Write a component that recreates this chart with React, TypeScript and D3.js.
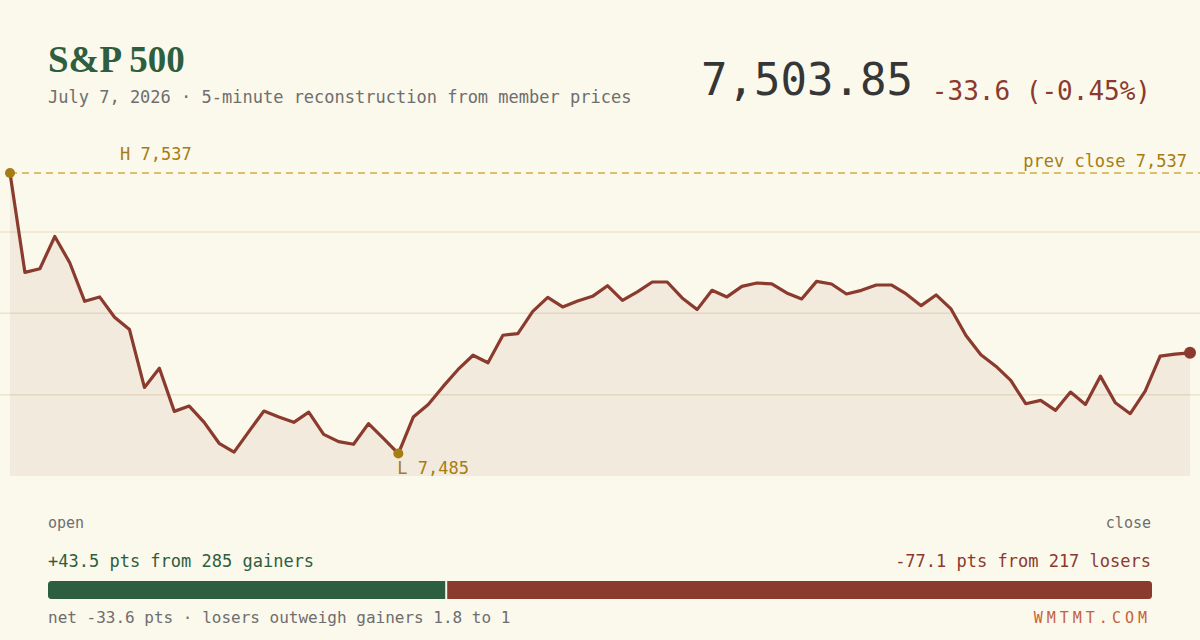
import React from "react";
import * as d3 from "d3";

// 5-minute reconstruction, 9:30 open to close
const prices: number[] = [
  7537.45, 7518.87, 7519.56, 7525.58, 7520.68, 7513.47, 7514.29, 7510.48, 7508.19, 7497.38,
  7500.98, 7492.91, 7493.9, 7490.86, 7486.95, 7485.3, 7489.18, 7492.97, 7491.85, 7490.86,
  7492.78, 7488.62, 7487.26, 7486.76, 7490.62, 7487.88, 7485.03, 7491.85, 7494.21, 7497.57,
  7500.74, 7503.4, 7501.99, 7507.13, 7507.45, 7511.6, 7514.21, 7512.42, 7513.54, 7514.4,
  7516.39, 7513.65, 7515.22, 7517.08, 7517.08, 7514.1, 7511.92, 7515.52, 7514.29, 7516.26,
  7516.89, 7516.71, 7515.03, 7513.91, 7517.19, 7516.71, 7514.84, 7515.52, 7516.52, 7516.52,
  7514.84, 7512.66, 7514.66, 7512.05, 7507.07, 7503.48, 7501.35, 7498.69, 7494.34, 7494.96,
  7493.1, 7496.51, 7494.21, 7499.49, 7494.53, 7492.48, 7496.69, 7503.22, 7503.6, 7503.85,
];

const prevClose = 7537.45;
const lastPrice = 7503.85;
const change = -33.6;
const changePct = -0.45;

const gainPts = 43.5;
const gainers = 285;
const lossPts = -77.1;
const losers = 217;

const C = {
  bg: "#fbf8ec",
  green: "#2e5e40",
  red: "#8b3a2e",
  gold: "#a67d12",
  dash: "#d4aa45",
  grid: "#ece3cb",
  gray: "#6e6e6e",
  ink: "#363636",
  brand: "#c4633b",
};

const MONO = "'DejaVu Sans Mono', 'Liberation Mono', monospace";
const SERIF = "'Liberation Serif', 'DejaVu Serif', serif";

export default function App() {
  const width = 1200;
  const height = 640;
  const plot = { left: 10, right: 1190, top: 150.5, bottom: 476 };

  const lo = d3.min(prices)!;
  const hi = d3.max(prices)!;
  const pad = (hi - lo) * 0.08;

  const x = d3
    .scaleLinear()
    .domain([0, prices.length - 1])
    .range([plot.left, plot.right]);
  const y = d3
    .scaleLinear()
    .domain([lo - pad, hi + pad])
    .range([plot.bottom, plot.top]);

  const [d0, d1] = y.domain();
  const gridVals = [0.25, 0.5, 0.75].map(t => d0 + (d1 - d0) * t);

  const line = d3
    .line<number>()
    .x((_, i) => x(i))
    .y(d => y(d));
  const area = d3
    .area<number>()
    .x((_, i) => x(i))
    .y0(plot.bottom)
    .y1(d => y(d));

  const hiIdx = d3.maxIndex(prices);
  const loIdx = d3.minIndex(prices);
  const lastIdx = prices.length - 1;

  const fmt0 = d3.format(",.0f");
  const bar = d3
    .scaleLinear()
    .domain([0, gainPts + Math.abs(lossPts)])
    .range([48, 1152]);
  const split = bar(gainPts);

  return (
    <div style={{ position: "absolute", left: 0, top: 0 }}>
      <svg width={width} height={height} style={{ display: "block" }}>
        <defs>
          <clipPath id="barclip">
            <rect x={bar(0)} y={581} width={bar.range()[1] - bar(0)} height={18} rx={3.5} />
          </clipPath>
        </defs>
        <rect width={width} height={height} fill={C.bg} />

        {/* header */}
        <text x={48} y={72} fontFamily={SERIF} fontWeight={700} fontSize={37} fill={C.green}>
          S&amp;P 500
        </text>
        <text x={48} y={102.5} fontFamily={MONO} fontSize={17} fill={C.gray}>
          July 7, 2026 · 5-minute reconstruction from member prices
        </text>
        <text x={913} y={95} textAnchor="end" fontFamily={MONO} fontSize={44} fill={C.ink}>
          {d3.format(",.2f")(lastPrice)}
        </text>
        <text x={1151} y={100} textAnchor="end" fontFamily={MONO} fontSize={26} fill={C.red}>
          {`${change.toFixed(1)} (${changePct.toFixed(2)}%)`}
        </text>

        {/* plot */}
        {gridVals.map(v => (
          <line key={v} x1={0} x2={width} y1={y(v)} y2={y(v)} stroke={C.grid} strokeWidth={1.5} />
        ))}
        <path d={area(prices) ?? undefined} fill={C.red} fillOpacity={0.07} />
        <line
          x1={plot.left}
          x2={width}
          y1={y(prevClose)}
          y2={y(prevClose)}
          stroke={C.dash}
          strokeWidth={1.5}
          strokeDasharray="7 5"
        />
        <text x={1187} y={166.5} textAnchor="end" fontFamily={MONO} fontSize={17} fill={C.gold}>
          prev close {fmt0(prevClose)}
        </text>
        <path d={line(prices) ?? undefined} fill="none" stroke={C.red} strokeWidth={3.2} strokeLinejoin="round" />

        <circle cx={x(hiIdx)} cy={y(prices[hiIdx])} r={5} fill={C.gold} />
        <text x={120} y={160} fontFamily={MONO} fontSize={17} fill={C.gold}>
          H {fmt0(prices[hiIdx])}
        </text>
        <circle cx={x(loIdx)} cy={y(prices[loIdx])} r={5} fill={C.gold} />
        <text x={x(loIdx) - 1} y={473.5} fontFamily={MONO} fontSize={17} fill={C.gold}>
          L {fmt0(prices[loIdx])}
        </text>
        <circle cx={x(lastIdx)} cy={y(prices[lastIdx])} r={6} fill={C.red} />

        {/* footer */}
        <text x={48} y={528} fontFamily={MONO} fontSize={15} fill={C.gray}>
          open
        </text>
        <text x={1151} y={528} textAnchor="end" fontFamily={MONO} fontSize={15} fill={C.gray}>
          close
        </text>
        <text x={48} y={567} fontFamily={MONO} fontSize={17} fill={C.green}>
          {`+${gainPts.toFixed(1)} pts from ${gainers} gainers`}
        </text>
        <text x={1151} y={567} textAnchor="end" fontFamily={MONO} fontSize={17} fill={C.red}>
          {`${lossPts.toFixed(1)} pts from ${losers} losers`}
        </text>
        <g clipPath="url(#barclip)">
          <rect x={bar(0)} y={581} width={split - 1 - bar(0)} height={18} fill={C.green} />
          <rect x={split + 1} y={581} width={bar.range()[1] - split - 1} height={18} fill={C.red} />
        </g>
        <text x={48} y={622.5} fontFamily={MONO} fontSize={16} fill={C.gray}>
          {`net ${change.toFixed(1)} pts · losers outweigh gainers ${(Math.abs(lossPts) / gainPts).toFixed(1)} to 1`}
        </text>
        <text
          x={1151}
          y={622.5}
          textAnchor="end"
          fontFamily={MONO}
          fontSize={15}
          letterSpacing={4}
          fill={C.brand}
        >
          WMTMT.COM
        </text>
      </svg>
    </div>
  );
}
